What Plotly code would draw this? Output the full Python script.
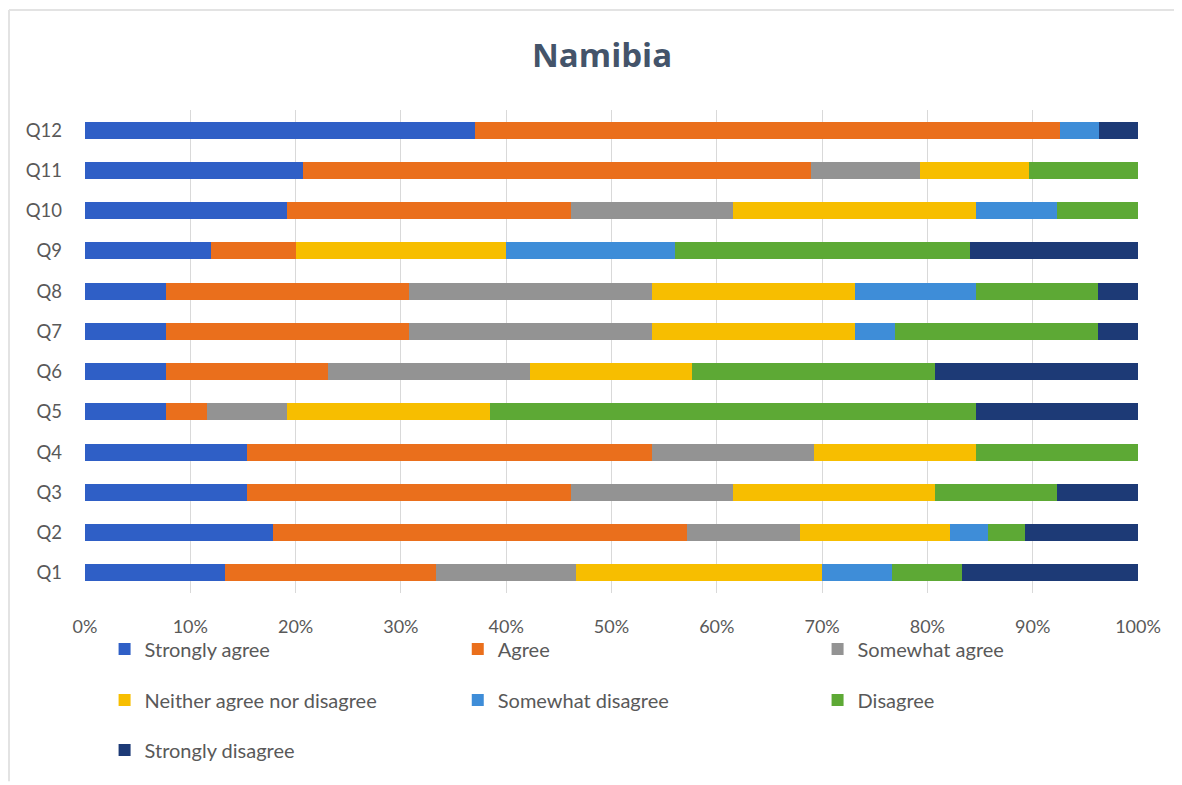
import plotly.graph_objects as go

questions = ["Q1", "Q2", "Q3", "Q4", "Q5", "Q6", "Q7", "Q8", "Q9", "Q10", "Q11", "Q12"]

strongly_agree = [13.33, 17.86, 15.38, 15.38, 7.69, 7.69, 7.69, 7.69, 12.00, 19.23, 20.69, 37.04]
agree = [20.00, 39.29, 30.77, 38.46, 3.85, 15.38, 23.08, 23.08, 8.00, 26.92, 48.28, 55.56]
somewhat_agree = [13.33, 10.71, 15.38, 15.38, 7.69, 19.23, 23.08, 23.08, 0.00, 15.38, 10.34, 0.00]
neither = [23.33, 14.29, 19.23, 15.38, 19.23, 15.38, 19.23, 19.23, 20.00, 23.08, 10.34, 0.00]
somewhat_disagree = [6.67, 3.57, 0.00, 0.00, 0.00, 0.00, 3.85, 11.54, 16.00, 7.69, 0.00, 3.70]
disagree = [6.67, 3.57, 11.54, 15.38, 46.15, 23.08, 19.23, 11.54, 28.00, 7.69, 10.34, 0.00]
strongly_disagree = [16.67, 10.71, 7.69, 0.00, 15.38, 19.23, 3.85, 3.85, 16.00, 0.00, 0.00, 3.70]

series_names = ["Strongly agree", "Agree", "Somewhat agree", "Neither agree nor disagree",
                "Somewhat disagree", "Disagree", "Strongly disagree"]
series_values = [strongly_agree, agree, somewhat_agree, neither,
                 somewhat_disagree, disagree, strongly_disagree]
colors = ["#2F5FC6", "#EA6F1C", "#939393", "#F7BE00", "#3E8DD8", "#5DA935", "#1D3A76"]

tick_vals = [0, 10, 20, 30, 40, 50, 60, 70, 80, 90, 100]
tick_text = ["0%", "10%", "20%", "30%", "40%", "50%", "60%", "70%", "80%", "90%", "100%"]

TEXT_FONT = "Lato"
TEXT_COLOR = "#595959"

# legend grid: 3 columns x 3 rows (paper coordinates)
col_x = [0.0186, 0.354, 0.6957]
row_y = [-0.1160, -0.2215, -0.325]
legend_pos = [(0, 0), (1, 0), (2, 0), (0, 1), (1, 1), (2, 1), (0, 2)]

fig = go.Figure()
legend_layouts = {}
for i, (name, vals, col) in enumerate(zip(series_names, series_values, colors)):
    lid = "legend" if i == 0 else f"legend{i + 1}"
    fig.add_trace(go.Bar(
        y=questions, x=vals, name=name, orientation="h",
        marker=dict(color=col, line=dict(width=0)),
        legend=lid, width=0.42,
    ))
    cx, ry = legend_pos[i]
    legend_layouts[lid] = dict(
        orientation="h", xanchor="left", yanchor="middle",
        x=col_x[cx], y=row_y[ry],
        font=dict(family=TEXT_FONT, size=20, color=TEXT_COLOR),
        bgcolor="rgba(0,0,0,0)", itemclick=False, itemdoubleclick=False,
    )

fig.update_layout(
    width=1174, height=777,
    barmode="stack",
    paper_bgcolor="white", plot_bgcolor="white",
    margin=dict(l=77, r=44, t=102, b=192, autoexpand=False),
    title=dict(text="<b>Namibia</b>", x=0.506, xanchor="center", y=0.9395, yanchor="middle",
               font=dict(family="Open Sans", size=33, color="#44546A")),
    xaxis=dict(range=[0, 100], tickvals=tick_vals, ticktext=tick_text,
               showgrid=True, gridcolor="#D9D9D9", gridwidth=1,
               zeroline=False, showline=False, ticks="",
               ticklabelstandoff=21,
               tickfont=dict(family=TEXT_FONT, size=18, color=TEXT_COLOR)),
    yaxis=dict(categoryorder="array", categoryarray=questions,
               showgrid=False, zeroline=False, showline=False, ticks="",
               ticklabelstandoff=22, range=[-0.5, 11.5],
               tickfont=dict(family=TEXT_FONT, size=18.5, color=TEXT_COLOR)),
    showlegend=True,
    shapes=[
        dict(type="line", xref="paper", yref="paper", x0=-0.0722, x1=1.05, y0=1.207, y1=1.207,
             line=dict(color="#E3E3E3", width=2)),
        dict(type="line", xref="paper", yref="paper", x0=-0.0722, x1=-0.0722, y0=1.207, y1=-0.39,
             line=dict(color="#E3E3E3", width=2)),
    ],
    **legend_layouts,
)

fig.write_html("out.html")
